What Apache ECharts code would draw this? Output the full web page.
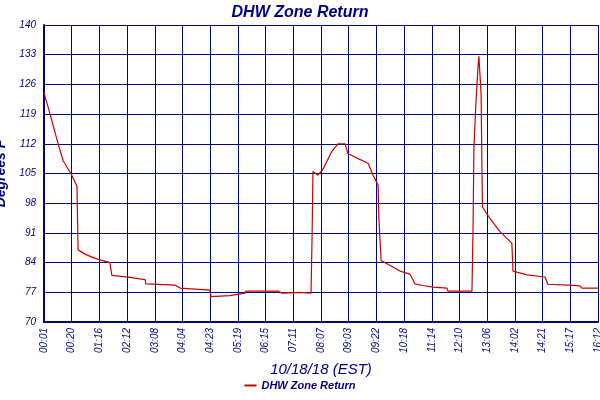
<!DOCTYPE html>
<html><head><meta charset="utf-8">
<script src="https://cdn.jsdelivr.net/npm/echarts@6/dist/echarts.min.js"></script>
<style>html,body{margin:0;padding:0;background:#fff}#c{width:600px;height:400px}</style>
</head><body><div id="c"></div>
<script>
const timeLabels = ["00:01","00:20","01:16","02:12","03:08","04:04","04:23","05:19","06:15","07:11","08:07","09:03","09:22","10:18","11:14","12:10","13:06","14:02","14:21","15:17","16:12"];
const xPos = [0,2.2,5.1,6.9,9.7,11.9,12.3,14.8,18.4,23.8,24.5,31,36.5,36.8,47.3,49.1,59.9,60.3,67.1,72.6,72.9,84.5,85.9,92.4,96.4,96.8,97.1,98.9,100.7,104,106.1,108.7,109.7,113.4,117,118.8,120.6,120.9,121.7,124.2,128.5,132.1,133.9,136.8,140.4,145.5,145.8,154.5,154.9,155.2,155.9,156.7,157,157.8,158.1,158.3,161,164.6,168.9,169.3,174.4,180.9,181.9,189.2,193.5,194.2,200];
const temps = [124,119,112,108,105,102,87,86,85,84,81,80.5,80,79,78.7,78,77.5,76,76.2,76.8,77.3,77.3,76.8,77,76.8,91,105.5,104.6,106,110.3,112,112,109.7,108.5,107.4,104.6,102.3,94.5,84.5,83.6,82,81.3,79,78.6,78.2,78,77.3,77.3,92.4,110.8,121.3,130.3,132.6,123.7,106,97.1,94.4,91.3,88.6,82,81.1,80.6,78.9,78.7,78.5,78,78];
const navy = '#000080';
const chart = echarts.init(document.getElementById('c'));
chart.setOption({
  animation:false,
  title:{text:'DHW Zone Return',left:'center',top:0,textStyle:{color:navy,fontFamily:'Liberation Sans',fontStyle:'italic',fontWeight:'bold',fontSize:16}},
  legend:{bottom:4,left:'center',itemWidth:12,itemHeight:2,icon:'rect',textStyle:{color:navy,fontFamily:'Liberation Sans',fontStyle:'italic',fontWeight:'bold',fontSize:11},data:['DHW Zone Return']},
  grid:{left:44,right:2,top:25,bottom:78,containLabel:false,outerBoundsMode:'none'},
  xAxis:{type:'value',min:0,max:200,interval:10,
    name:'10/18/18 (EST)',nameLocation:'middle',nameGap:40,
    nameTextStyle:{color:navy,fontFamily:'Liberation Sans',fontStyle:'italic',fontSize:15},
    axisLine:{show:true,lineStyle:{color:navy,width:2}},axisTick:{show:false},
    axisLabel:{rotate:90,color:navy,fontFamily:'Liberation Sans',fontStyle:'italic',fontSize:10,margin:6,
      formatter:v=>timeLabels[Math.round(v/10)]||''},
    splitLine:{show:true,lineStyle:{color:navy,width:1}}},
  yAxis:{type:'value',min:70,max:140,interval:7,
    name:'Degrees F',nameLocation:'middle',nameGap:28,
    nameTextStyle:{color:navy,fontFamily:'Liberation Sans',fontStyle:'italic',fontWeight:'bold',fontSize:14},
    axisLine:{show:true,lineStyle:{color:navy,width:2}},axisTick:{show:false},
    axisLabel:{color:navy,fontFamily:'Liberation Sans',fontStyle:'italic',fontSize:10,margin:8},
    splitLine:{show:true,lineStyle:{color:navy,width:1}}},
  series:[{name:'DHW Zone Return',type:'line',symbol:'none',color:'#cc0000',lineStyle:{width:1.2,color:'#cc0000'},
    data:xPos.map((x,i)=>[x,temps[i]])}]
});
</script></body></html>
